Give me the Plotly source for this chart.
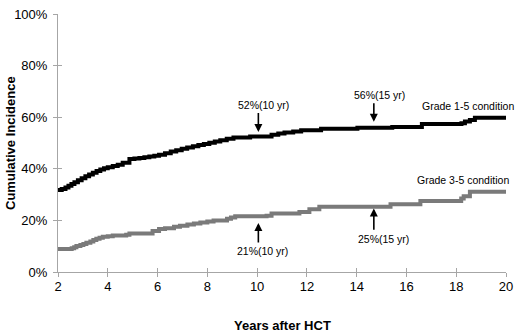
import plotly.graph_objects as go

# Grade 1-5 condition (black step curve)
years_g15 = [2.0, 2.15, 2.3, 2.42, 2.54, 2.66, 2.8, 2.95, 3.1, 3.25, 3.4, 3.55, 3.7, 3.85, 4.0,
             4.2, 4.4, 4.6, 4.87, 5.07, 5.27, 5.47, 5.67, 5.87, 6.06, 6.3, 6.53, 6.75, 6.97, 7.19,
             7.42, 7.64, 7.86, 8.08, 8.3, 8.52, 8.78, 9.05, 9.72, 10.58, 10.85, 11.1, 11.45,
             11.77, 12.57, 14.03, 15.43, 16.62, 18.21, 18.35, 18.55, 18.75, 20.0]
ci_g15 = [0.318, 0.322, 0.328, 0.334, 0.341, 0.348, 0.356, 0.363, 0.371, 0.378, 0.385, 0.391,
          0.397, 0.402, 0.406, 0.411, 0.416, 0.423, 0.438, 0.440, 0.442, 0.445, 0.448, 0.451,
          0.454, 0.460, 0.467, 0.472, 0.478, 0.483, 0.487, 0.492, 0.496, 0.501, 0.506, 0.511,
          0.516, 0.521, 0.525, 0.532, 0.537, 0.541, 0.545, 0.549, 0.555, 0.559, 0.562, 0.574,
          0.577, 0.583, 0.589, 0.598, 0.598]

# Grade 3-5 condition (gray step curve)
years_g35 = [2.0, 2.55, 2.65, 2.74, 2.9, 3.02, 3.14, 3.3, 3.42, 3.54, 3.67, 3.8, 4.0, 4.2, 4.74,
             4.87, 5.8, 6.06, 6.3, 6.66, 6.9, 7.2, 7.46, 7.72, 8.0, 8.25, 8.79, 8.95, 9.12, 10.38,
             10.58, 11.7, 12.1, 12.5, 15.36, 16.56, 18.2, 18.3, 18.55, 20.0]
ci_g35 = [0.089, 0.092, 0.096, 0.101, 0.105, 0.109, 0.113, 0.118, 0.124, 0.129, 0.133, 0.137,
          0.139, 0.141, 0.144, 0.149, 0.159, 0.167, 0.170, 0.175, 0.179, 0.184, 0.188, 0.192,
          0.196, 0.200, 0.206, 0.211, 0.216, 0.218, 0.227, 0.233, 0.243, 0.253, 0.263, 0.275,
          0.285, 0.294, 0.311, 0.311]

x_ticks = [2, 4, 6, 8, 10, 12, 14, 16, 18, 20]
y_ticks = [0, 0.2, 0.4, 0.6, 0.8, 1.0]
y_tick_labels = ["0%", "20%", "40%", "60%", "80%", "100%"]

# callouts: (text, text_x, text_y, arrow_x, arrow_tail_y, arrow_tip_y)
callouts = [
    ("52%(10 yr)", 10.25, 0.649, 10.05, 0.622, 0.543),
    ("56%(15 yr)", 14.93, 0.687, 14.69, 0.660, 0.582),
    ("21%(10 yr)", 10.2, 0.083, 10.05, 0.109, 0.190),
    ("25%(15 yr)", 15.07, 0.128, 14.69, 0.158, 0.246),
]
series_labels = [("Grade 1-5 condition", 18.47, 0.645), ("Grade 3-5 condition", 18.27, 0.357)]

FONT = "Arial, Liberation Sans, sans-serif"
AXIS_COLOR = "#a6a6a6"

fig = go.Figure()
fig.add_trace(go.Scatter(x=years_g15, y=ci_g15, mode="lines", line=dict(color="#000000", width=4, shape="hv"),
                         showlegend=False, hoverinfo="skip"))
fig.add_trace(go.Scatter(x=years_g35, y=ci_g35, mode="lines", line=dict(color="#7a7a7a", width=4, shape="hv"),
                         showlegend=False, hoverinfo="skip"))
# helper (empty) trace for the overlay axes that draw the inner half of crossing ticks
fig.add_trace(go.Scatter(x=[None], y=[None], xaxis="x2", yaxis="y2", showlegend=False, hoverinfo="skip"))

annotations = []
for text, tx, ty, axx, tail, tip in callouts:
    annotations.append(dict(x=axx, y=tip, ax=axx, ay=tail, xref="x", yref="y", axref="x", ayref="y",
                            text="", showarrow=True, arrowhead=2, arrowsize=1, arrowwidth=1.6,
                            arrowcolor="#000000"))
    annotations.append(dict(x=tx, y=ty, xref="x", yref="y", text=text, showarrow=False,
                            font=dict(family=FONT, size=10.5, color="#000000")))
for text, tx, ty in series_labels:
    annotations.append(dict(x=tx, y=ty, xref="x", yref="y", text=text, showarrow=False,
                            font=dict(family=FONT, size=10.5, color="#000000")))
annotations.append(dict(x=0.5, y=0, xref="paper", yref="paper", yshift=-53, yanchor="middle",
                        text="<b>Years after HCT</b>", showarrow=False,
                        font=dict(family=FONT, size=13, color="#000000")))
annotations.append(dict(x=0, y=0.5, xref="paper", yref="paper", xshift=-48, xanchor="center",
                        yanchor="middle", textangle=-90, text="<b>Cumulative Incidence</b>",
                        showarrow=False, font=dict(family=FONT, size=13, color="#000000")))

fig.update_layout(
    width=520, height=334,
    margin=dict(l=58, r=10, t=7, b=62),
    paper_bgcolor="white", plot_bgcolor="white",
    font=dict(family=FONT, size=13, color="#000000"),
    xaxis=dict(range=[2, 20], tickvals=x_ticks, ticks="outside", ticklen=4, tickcolor=AXIS_COLOR,
               showline=True, linecolor=AXIS_COLOR, linewidth=1, showgrid=False, zeroline=False,
               ticklabeloverflow="allow", ticklabelstandoff=-2,
               tickfont=dict(family=FONT, size=13, color="#000000")),
    yaxis=dict(range=[0, 1], tickvals=y_ticks, ticktext=y_tick_labels, ticks="outside", ticklen=4,
               tickcolor=AXIS_COLOR, showline=True, linecolor=AXIS_COLOR, linewidth=1, showgrid=False,
               zeroline=False, ticklabeloverflow="allow", ticklabelstandoff=3,
               tickfont=dict(family=FONT, size=13, color="#000000")),
    xaxis2=dict(range=[2, 20], tickvals=x_ticks, ticks="inside", ticklen=4, tickcolor=AXIS_COLOR,
                overlaying="x", anchor="y", side="bottom", showticklabels=False, showline=False,
                showgrid=False, zeroline=False),
    yaxis2=dict(range=[0, 1], tickvals=y_ticks, ticks="inside", ticklen=4, tickcolor=AXIS_COLOR,
                overlaying="y", anchor="x", side="left", showticklabels=False, showline=False,
                showgrid=False, zeroline=False),
    annotations=annotations,
)

fig.write_html("out.html", config={"displayModeBar": False, "staticPlot": True})

# remove the default page margin so the 520x334 figure fills the window exactly
with open("out.html", "r", encoding="utf-8") as f:
    html = f.read()
html = html.replace("<head>", "<head><style>html,body{margin:0;padding:0;overflow:hidden;}</style>", 1)
with open("out.html", "w", encoding="utf-8") as f:
    f.write(html)
